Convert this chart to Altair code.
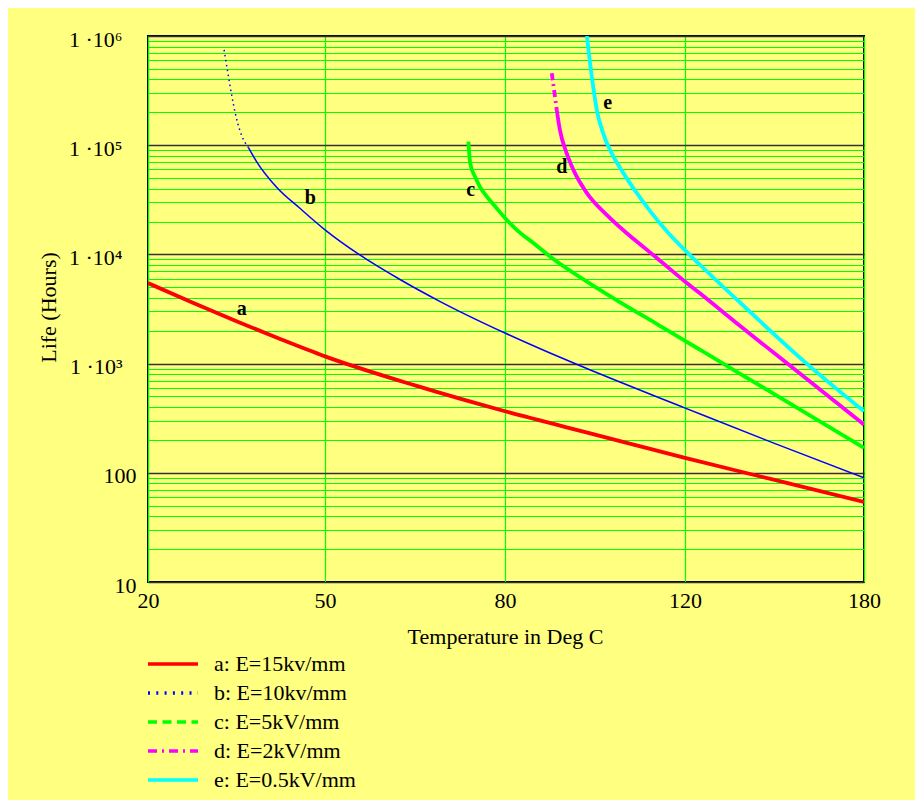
import json
import altair as alt
import pandas as pd

# ---------------- data ----------------
series_names = ["a: E=15kv/mm", "b: E=10kv/mm", "c: E=5kV/mm", "d: E=2kV/mm", "e: E=0.5kV/mm"]
series_colors = ["#FF0000", "#0000FF", "#00FF00", "#FF00FF", "#00FFFF"]
series_widths = [3.8, 1.5, 3.8, 3.8, 3.8]
series_top_style = ["solid", "dot", "solid", "dashdot", "solid"]
series_top_points = [0, 7, 0, 3, 0]

a_temp = [20, 27.5, 35, 42.5, 50, 65, 80, 100, 120, 150, 180]
a_life = [5460, 3620, 2440, 1670, 1164, 631, 366, 224, 137, 86, 54]

b_temp = [32.9, 33.3, 33.7, 34.2, 34.8, 35.6, 37.0, 38.4, 41.8, 45.8, 50, 55.8,
          62.5, 69.2, 80, 90, 96.7, 114.4, 120.3, 150.2, 180]
b_life = [745000, 550000, 407000, 285000, 195000, 135000, 95500, 70800, 41200, 26300,
          16800, 9890, 5890, 3700, 1905, 1250, 955, 484, 389, 185, 90]

c_temp = [73.9, 74.2, 75.0, 75.8, 77.2, 78.6, 80, 82.6, 86.3, 90, 101.1, 114.4,
          120.3, 125, 150.2, 180]
c_life = [108000, 68400, 51600, 41800, 32700, 26500, 21500, 16800, 12700, 9570, 4740,
          2220, 1600, 1340, 520, 169]

d_temp = [90.4, 91.1, 91.5, 92.2, 93.7, 95.2, 98.2, 102.6, 107.0, 110.7, 114.4,
          120.3, 125.0, 138.4, 150.2, 180]
d_life = [456000, 279000, 210000, 138000, 84500, 59400, 36400, 23000, 15700, 11750,
          8810, 5560, 4400, 2220, 1230, 276]

e_temp = [98.2, 98.9, 99.6, 100.4, 101.8, 103.7, 106.3, 109.3, 112.6, 116.3, 120.4,
          125, 138.4, 160.8, 180]
e_life = [1000000, 562000, 344000, 210000, 129000, 84500, 55500, 36400, 23900, 15700,
          10640, 8040, 3630, 1000, 366]

curve_labels = ["a", "b", "c", "d", "e"]
label_temp = [35.9, 47.5, 74.3, 92.6, 102.8]
label_life = [3160, 32700, 39000, 63000, 245000]

x_ticks = [20, 50, 80, 120, 180]
y_major = [10, 100, 1000, 10000, 100000, 1000000]
y_major_labels = ["10", "100", "1 ·10³", "1 ·10⁴", "1 ·10⁵", "1 ·10⁶"]
y_minor = [m * 10 ** k for k in range(1, 6) for m in range(2, 10)]

# ---------------- build tables ----------------
curves = [(a_temp, a_life), (b_temp, b_life), (c_temp, c_life), (d_temp, d_life), (e_temp, e_life)]
rows = []
for name, (temps, lives), w, style, ntop in zip(series_names, curves, series_widths,
                                                 series_top_style, series_top_points):
    for i, (t, v) in enumerate(zip(temps, lives)):
        if i < ntop:
            rows.append({"series": name, "part": name + " top", "dash": style, "w": w, "temp": t, "life": v})
        if i >= ntop - 1:
            rows.append({"series": name, "part": name + " main", "dash": "solid", "w": w, "temp": t, "life": v})
df = pd.DataFrame(rows)
lab = pd.DataFrame({"txt": curve_labels, "temp": label_temp, "life": label_life})

FONT = "Liberation Serif"
FS = 22
W, H = 716, 546

legend_dashes = [[1, 0], [2, 6.3], [9, 5.5], [9, 5, 2, 5], [1, 0]]

major_test = f"indexof({json.dumps(y_major)}, datum.value) >= 0"
label_expr = (f"indexof({json.dumps(y_major)}, datum.value) >= 0 ? "
              f"{json.dumps(y_major_labels, ensure_ascii=False)}[indexof({json.dumps(y_major)}, datum.value)] : ''")

x_enc = alt.X(
    "temp:Q",
    scale=alt.Scale(domain=x_ticks, range=[0, 177, 357, 537, 716], nice=False, zero=False),
    axis=alt.Axis(values=x_ticks, format="d", grid=True, gridColor="#00FF00", gridWidth=1.2,
                  ticks=False, domain=False, labelFont=FONT, labelFontSize=FS, labelColor="black",
                  labelPadding=8, labelOverlap=False, labelFlush=False,
                  title="Temperature in Deg C", titleFont=FONT, titleFontSize=FS,
                  titleFontWeight="normal", titleColor="black",
                  titleX=357, titleY=54, titleBaseline="middle", titleAlign="center"),
)
y_enc = alt.Y(
    "life:Q",
    scale=alt.Scale(type="log", domain=[10, 1000000], nice=False),
    axis=alt.Axis(values=sorted(y_major + y_minor), labelExpr=label_expr, grid=True,
                  gridColor={"condition": {"test": major_test, "value": "#333333"}, "value": "#00FF00"},
                  gridWidth={"condition": {"test": major_test, "value": 1.6}, "value": 1.2},
                  ticks=False, domain=False, labelFont=FONT, labelFontSize=FS, labelColor="black",
                  labelPadding={"condition": {"test": "datum.value >= 1000", "value": 26}, "value": 12},
                  labelOffset=3, labelOverlap=False, labelBound=False,
                  title="Life (Hours)", titleFont=FONT, titleFontSize=FS,
                  titleFontWeight="normal", titleColor="black",
                  titleX=-100, titleY=271, titleAngle=-90, titleAlign="center",
                  titleBaseline="middle"),
)

color_enc = alt.Color(
    "series:N",
    scale=alt.Scale(domain=series_names, range=series_colors),
    legend=alt.Legend(
        title=None, orient="none", legendX=-2, legendY=617,
        symbolType="stroke", symbolSize=2500, symbolStrokeWidth=3.5,
        clipHeight=22, rowPadding=7, labelOffset=14, padding=0,
        labelFont=FONT, labelFontSize=FS, labelColor="black", labelLimit=400,
    ),
)

base = alt.Chart(df).encode(
    x=x_enc,
    y=y_enc,
    color=color_enc,
    strokeWidth=alt.StrokeWidth("w:Q", scale=None, legend=None),
    detail="part:N",
)

solid_lines = base.mark_line(interpolate="monotone", clip=True).transform_filter("datum.dash == 'solid'")
dot_lines = base.mark_line(interpolate="monotone", clip=True, strokeDash=[1.5, 3.5]).transform_filter(
    "datum.dash == 'dot'")
dashdot_lines = base.mark_line(interpolate="monotone", clip=True, strokeDash=[7, 4, 2, 4]).transform_filter(
    "datum.dash == 'dashdot'")

# empty layer that only carries the legend line styles
legend_styles = alt.Chart(df).mark_line().encode(
    x="temp:Q",
    y="life:Q",
    color="series:N",
    strokeDash=alt.StrokeDash(
        "series:N",
        scale=alt.Scale(domain=series_names, range=legend_dashes),
        legend=alt.Legend(title=None, orient="none", legendX=-2, legendY=617),
    ),
).transform_filter("false")

texts = alt.Chart(lab).mark_text(font=FONT, fontWeight="bold", fontSize=20, color="black").encode(
    x="temp:Q", y="life:Q", text="txt:N"
)

chart = (
    alt.layer(solid_lines, dot_lines, dashdot_lines, legend_styles, texts)
    .properties(
        width=W, height=H,
        autosize=alt.AutoSizeParams(type="none"),
        padding={"left": 140, "top": 28, "right": 51, "bottom": 218},
        background="#FFFF80",
    )
    .configure_view(stroke="black", strokeWidth=2, fill=None)
)

chart.save("out.html", embed_options={"renderer": "svg", "actions": False})
